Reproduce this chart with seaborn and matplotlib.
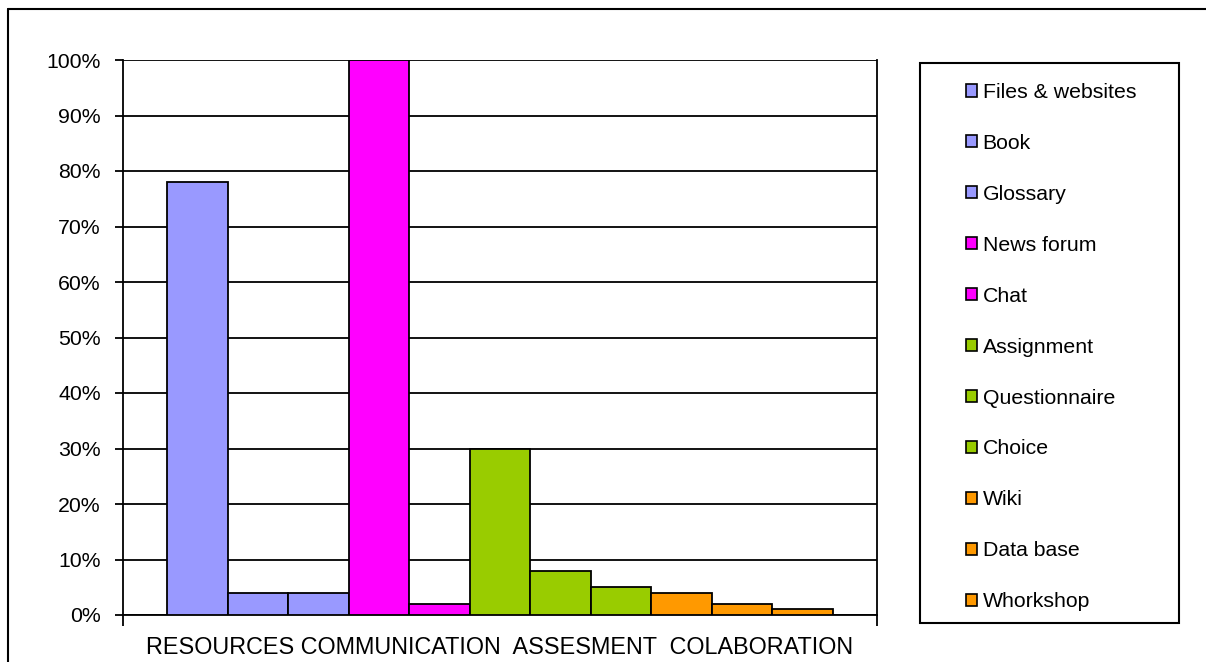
import matplotlib
matplotlib.use("Agg")
import matplotlib.pyplot as plt
from matplotlib.patches import Patch, Rectangle
from matplotlib.lines import Line2D
from matplotlib.ticker import PercentFormatter
import seaborn as sns
import pandas as pd

# Moodle activity usage by tool
tools = ["Files & websites", "Book", "Glossary", "News forum", "Chat",
         "Assignment", "Questionnaire", "Choice", "Wiki", "Data base", "Whorkshop"]
usage = [78, 4, 4, 100, 2, 30, 8, 5, 4, 2, 1]
groups = ["RESOURCES", "RESOURCES", "RESOURCES", "COMMUNICATION", "COMMUNICATION",
          "ASSESMENT", "ASSESMENT", "ASSESMENT", "COLABORATION", "COLABORATION", "COLABORATION"]
group_colors = {"RESOURCES": "#9999FF", "COMMUNICATION": "#FF00FF",
                "ASSESMENT": "#99CC00", "COLABORATION": "#FF9900"}
category_label = "RESOURCES COMMUNICATION  ASSESMENT  COLABORATION"
y_ticks = [0, 10, 20, 30, 40, 50, 60, 70, 80, 90, 100]

df = pd.DataFrame({"tool": tools, "usage": usage, "group": groups})

sns.set_theme(style="white")
plt.rcParams["font.family"] = ["Liberation Sans", "DejaVu Sans"]
plt.rcParams["text.color"] = "black"

W, H = 1206, 662
fig = plt.figure(figsize=(W / 100, H / 100), dpi=100)
ax = fig.add_axes([123 / W, 1 - 615 / H, (877 - 123) / W, (615 - 60) / H])

sns.barplot(data=df, x="tool", y="usage", hue="group", order=tools,
            palette=group_colors, saturation=1, dodge=False, width=1.0, ax=ax,
            edgecolor="black", linewidth=1.3, legend=False, zorder=3)

ax.set_xlim(-1.228, 11.228)
ax.set_ylim(0, 100)
ax.set_yticks(y_ticks)
ax.yaxis.set_major_formatter(PercentFormatter(decimals=0))
ax.grid(axis="y", color="black", linewidth=1.3, zorder=0)
ax.grid(axis="x", visible=False)
ax.set_axisbelow(True)

# one category label spanning the whole group, ticks at the category edges
ax.set_xticks([5])
ax.set_xticklabels([category_label])
ax.set_xticks([-1.228, 11.228], minor=True)
ax.tick_params(axis="x", which="major", length=0, pad=15, labelsize=16.8, colors="black")
ax.tick_params(axis="x", which="minor", length=8, width=1.3, direction="out",
               color="black", bottom=True)
ax.tick_params(axis="y", length=6, width=1.3, direction="out", color="black",
               left=True, labelsize=15.3, pad=10, labelcolor="black")
ax.set_xlabel("")
ax.set_ylabel("")

ax.spines["top"].set_visible(False)
for side in ["left", "right", "bottom"]:
    ax.spines[side].set_visible(True)
    ax.spines[side].set_color("black")
    ax.spines[side].set_linewidth(1.3)

# legend box
fig.patches.append(Rectangle((920 / W, 1 - 623 / H), (1179 - 920) / W, (623 - 63) / H,
                             transform=fig.transFigure, fill=False,
                             edgecolor="black", linewidth=1.5))
handles = [Patch(facecolor=group_colors[g], edgecolor="black", linewidth=1.2)
           for g in groups]
fig.legend(handles, tools, loc="upper left",
           bbox_to_anchor=(955 / W, 1 - 72 / H), frameon=False,
           fontsize=15.3, handlelength=0.55, handleheight=0.55,
           handletextpad=0.25, labelspacing=1.505, borderpad=0,
           labelcolor="black")

# outer chart frame
fig.add_artist(Line2D([8 / W, 8 / W], [0, 1 - 9 / H], transform=fig.transFigure,
                      color="black", linewidth=1.5))
fig.add_artist(Line2D([8 / W, 1], [1 - 9 / H, 1 - 9 / H], transform=fig.transFigure,
                      color="black", linewidth=1.5))

fig.savefig("out.png", dpi=100, facecolor="white")
